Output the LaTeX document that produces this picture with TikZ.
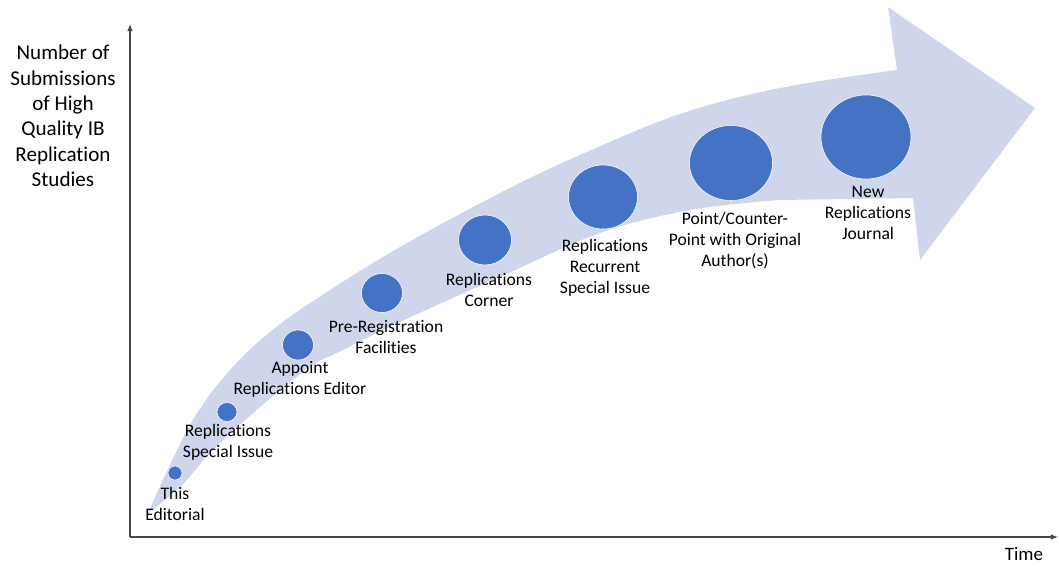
\documentclass[tikz,border=0pt]{standalone}
\usepackage{fontspec}
\setmainfont{Carlito}[Ligatures=NoCommon]
\usetikzlibrary{arrows.meta,shapes.geometric}

\definecolor{bandblue}{RGB}{207,213,234}
\definecolor{dotblue}{RGB}{68,114,196}
\definecolor{axisgray}{RGB}{70,70,70}

\tikzset{
  dot/.style 2 args={ellipse, fill=dotblue, draw=white, line width=0.4pt,
    inner sep=0pt, minimum width=2*#1*0.025cm, minimum height=2*#2*0.025cm},
  lbl/.style={align=center, inner sep=0pt, font=\fontsize{12.5}{14.9}\selectfont},
  axis/.style={axisgray, line width=0.8pt, -{Latex[length=5pt,width=4pt]}}
}

\begin{document}
\begin{tikzpicture}[x=0.025cm,y=-0.025cm]
  \useasboundingbox (0,0) rectangle (1059,566);

  % the big curved arrow
  \fill [bandblue] plot [smooth, tension=0.6] coordinates {(148,513) (190,425) (230,370) (275,328) (330,290) (400,247) (500,193) (580,155) (680,114) (780,88) (897,70)}
    -- (888,7) -- (1035,108) -- (920,260) -- (913,198)
    -- plot [smooth, tension=0.6] coordinates {(780,200) (690,210) (600,233) (500,277) (400,322) (343,350) (303,372) (223,440) (180,487) (148,513)} -- cycle;

  % axes
  \coordinate (origin) at (130,537);
  \coordinate (ytop) at (130,24);
  \coordinate (xend) at (1058,537);
  \draw [axis] (origin) -- (ytop);
  \draw [axis] (origin) -- (xend);
  \node [align=center, inner sep=0pt, font=\fontsize{15}{18.1}\selectfont] (ylabel) at (63,116)
    {Number of\\Submissions\\of High\\Quality IB\\Replication\\Studies};
  \node [inner sep=0pt, font=\fontsize{13.5}{16}\selectfont] (xlabel) at (1024,554) {Time};

  % milestones
  \node [dot={7}{7}] (editorial) at (175,473) {};
  \node [dot={10}{9.5}] (special) at (227,412) {};
  \node [dot={15.5}{15}] (editor) at (298,345) {};
  \node [dot={20.5}{19.5}] (prereg) at (382,293) {};
  \node [dot={26.5}{25}] (corner) at (485,240) {};
  \node [dot={34.5}{32}] (recurrent) at (603,197) {};
  \node [dot={41.5}{37.5}] (point) at (731,163) {};
  \node [dot={45}{42}] (journal) at (866,137) {};

  \node [lbl] (editorial-l) at (175,504) {This\\Editorial};
  \node [lbl] (special-l) at (228,442) {Replications\\Special Issue};
  \node [lbl] (editor-l) at (300,379) {Appoint\\Replications Editor};
  \node [lbl] (prereg-l) at (386,337) {Pre-Registration\\Facilities};
  \node [lbl] (corner-l) at (489,290) {Replications\\Corner};
  \node [lbl] (recurrent-l) at (605,268) {Replications\\Recurrent\\Special Issue};
  \node [lbl] (point-l) at (735,241) {Point/Counter-\\Point with Original\\Author(s)};
  \node [lbl] (journal-l) at (868,213) {New\\Replications\\Journal};

\end{tikzpicture}
\end{document}
